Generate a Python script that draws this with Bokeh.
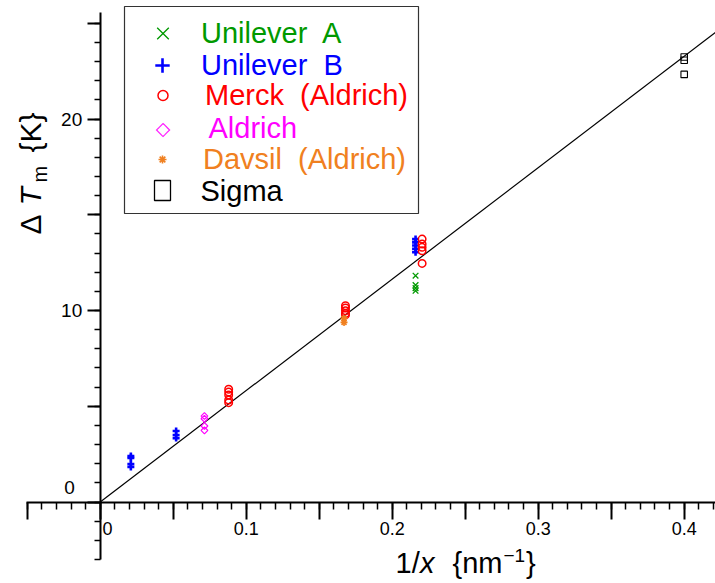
from math import pi

from bokeh.embed import file_html
from bokeh.models import BoxAnnotation, FixedTicker, Label, Legend, LegendItem, Range1d
from bokeh.plotting import figure
from bokeh.resources import INLINE

# ---- data: melting-point depression vs inverse pore size -------------------
unilever_a_x = [0.216, 0.216, 0.216, 0.216]
unilever_a_y = [11.82, 11.33, 11.17, 11.03]

unilever_b_x = [0.021, 0.021, 0.021, 0.021, 0.052, 0.052, 0.052,
                0.216, 0.216, 0.216, 0.216, 0.216]
unilever_b_y = [2.40, 2.30, 1.98, 1.83, 3.71, 3.50, 3.34,
                13.73, 13.56, 13.40, 13.23, 13.05]

merck_x = [0.088, 0.088, 0.088, 0.088, 0.088,
           0.168, 0.168, 0.168, 0.168, 0.168,
           0.2205, 0.2205, 0.2205, 0.2205, 0.2205]
merck_y = [5.89, 5.74, 5.59, 5.33, 5.19,
           10.25, 10.13, 9.99, 9.85, 9.77,
           13.73, 13.47, 13.30, 13.12, 12.46]

aldrich_x = [0.0714, 0.0714, 0.0714, 0.0714]
aldrich_y = [4.49, 4.35, 3.97, 3.74]

davsil_x = [0.167, 0.167]
davsil_y = [9.59, 9.38]

sigma_x = [0.40, 0.40, 0.40]
sigma_y = [23.24, 23.07, 22.33]

# straight-line fit through the origin (K nm)
fit_slope = 58.2

# axis ticks and extents
x_axis_bounds = (-0.0505, 0.4214)
y_axis_bounds = (-3.0, 25.56)
x_major = [-0.05, 0.0, 0.05, 0.1, 0.15, 0.2, 0.25, 0.3, 0.35, 0.4]
x_labeled = [0.1, 0.2, 0.3, 0.4]
x_minor = [round(-0.05 + 0.01 * i, 2) for i in range(48)]
y_major = [0, 5, 10, 15, 20, 25]
y_labeled = [10, 20]
y_minor = list(range(-3, 26))

FONT = "Liberation Sans"
W, H = 715, 583

# ---- figure (frame fills the canvas; axes cross at the origin) -------------
x_start, x_end = -0.06829, 0.42144
y_start, y_end = -4.254, 26.19
p = figure(width=W, height=H,
           x_range=Range1d(x_start, x_end), y_range=Range1d(y_start, y_end),
           output_backend="svg", toolbar_location=None,
           min_border=0)
p.outline_line_color = None
p.grid.visible = False
p.background_fill_color = "white"
p.border_fill_color = "white"

xax = p.xaxis[0]
yax = p.yaxis[0]
xax.fixed_location = 0
yax.fixed_location = 0
xax.bounds = x_axis_bounds
yax.bounds = y_axis_bounds
xax.ticker = FixedTicker(ticks=x_major, minor_ticks=x_minor)
yax.ticker = FixedTicker(ticks=y_major, minor_ticks=y_minor)
xax.major_label_overrides = {t: "" for t in x_major if t not in x_labeled}
yax.major_label_overrides = {t: "" for t in y_major if t not in y_labeled}

for ax in (xax, yax):
    ax.axis_line_width = 2
    ax.major_tick_line_width = 2
    ax.minor_tick_line_width = 1.5
    ax.major_tick_in = 0
    ax.minor_tick_in = 0
    ax.major_label_text_font = FONT
    ax.major_label_text_font_style = "normal"
    ax.major_label_text_color = "black"

xax.major_tick_out = 17
xax.minor_tick_out = 7
xax.major_label_standoff = 3
xax.major_label_text_font_size = "18px"
yax.major_tick_out = 13
yax.minor_tick_out = 6
yax.major_label_standoff = 5
yax.major_label_text_font_size = "19px"

# fit line from the origin to the right edge
fit_x = [0.0, x_end]
fit_y = [fit_slope * v for v in fit_x]
p.line(fit_x, fit_y, line_color="black", line_width=1.2)

# ---- data series ------------------------------------------------------------
GREEN, BLUE, RED, MAGENTA, ORANGE = "#009900", "#0000ff", "#ff0000", "#ff00ff", "#f08020"

r_a = p.scatter(unilever_a_x, unilever_a_y, marker="x", size=8,
                line_color=GREEN, line_width=1.3)
r_b = p.scatter(unilever_b_x, unilever_b_y, marker="cross", size=7,
                line_color=BLUE, line_width=2.6)
r_m = p.scatter(merck_x, merck_y, marker="circle", size=7.5,
                line_color=RED, fill_color=None, line_width=1.5)
# diamond drawn as a square turned by 45 degrees
r_al = p.scatter(aldrich_x, aldrich_y, marker="square", angle=pi / 4, size=4.8,
                 line_color=MAGENTA, fill_color=None, line_width=1.2)
r_d = p.scatter(davsil_x, davsil_y, marker="asterisk", size=7,
                line_color=ORANGE, line_width=1.6)
r_s = p.scatter(sigma_x, sigma_y, marker="square", size=6.5,
                line_color="black", fill_color=None, line_width=1.1)

# ---- legend ----------------------------------------------------------------
KEY_X = 162    # centre of the legend keys (canvas px)
ROW_H = 44
LEG_SIZE = "29px"
marker_rows = [
    # label, renderer, colour, key width, row centre y, text x
    ("Unilever  A", r_a, GREEN, 41, 32.5, 201),
    ("Unilever  B", r_b, BLUE, 36, 65, 201),
    ("Merck  (Aldrich)", r_m, RED, 25, 95.5, 204),
    ("Davsil  (Aldrich)", r_d, ORANGE, 20, 158.5, 203),
]
for label, rend, color, gw, cy, tx in marker_rows:
    leg = Legend(items=[LegendItem(label=label, renderers=[rend])],
                 location=(int(round(KEY_X - gw / 2)), int(round(H - (cy + ROW_H / 2)))),
                 glyph_width=gw, glyph_height=ROW_H, label_height=ROW_H,
                 label_standoff=int(round(tx - (KEY_X + gw / 2))),
                 padding=0, margin=0, spacing=0,
                 border_line_alpha=0, background_fill_alpha=0,
                 label_text_font=FONT, label_text_font_size=LEG_SIZE,
                 label_text_color=color)
    p.add_layout(leg)


def text_at(text, sx, sy, size, color="black", font=FONT, align="left",
            style="normal", angle=0.0):
    """Place a text, vertically centred on (sx, sy) in canvas pixels."""
    p.add_layout(Label(x=sx, y=H - sy, x_units="screen", y_units="screen",
                       text=text, angle=angle, text_font=font, text_font_size=size,
                       text_font_style=style, text_align=align,
                       text_baseline="middle", text_color=color))


def screen_box(left, right, top, bottom, color, width):
    p.add_layout(BoxAnnotation(left=left, right=right, top=H - top, bottom=H - bottom,
                               left_units="screen", right_units="screen",
                               top_units="screen", bottom_units="screen",
                               fill_alpha=0, line_color=color, line_alpha=1.0,
                               line_width=width))


# Aldrich row: open diamond key
text_at("\u25c7", KEY_X + 0.5, 127, "19px", MAGENTA, font="DejaVu Sans", align="center")
text_at("Aldrich", 208, 127, LEG_SIZE, MAGENTA)
# Sigma row: open rectangle key
screen_box(154, 170, 180, 200, "black", 1.3)
text_at("Sigma", 200, 190, LEG_SIZE)

# legend frame
screen_box(124, 418, 6, 213, "#333333", 1.2)

# ---- zero tick labels, offset away from the crossing axes ------------------
text_at("0", 107, 528, "18px", align="center")
text_at("0", 69, 487, "19px", align="center")

# ---- axis titles built from pieces (italic symbols, sub/superscripts) ------
# 1/x {nm^-1}
text_at("1/", 395, 562, "29px")
text_at("x", 419.5, 562, "29px", style="italic")
text_at("{nm", 452, 562, "29px")
text_at("\u22121", 503, 554.5, "19px")
text_at("}", 525.5, 562, "29px")

# ΔT_m {K}, rotated
text_at("\u0394", 29.5, 234, "30px", angle=pi / 2)
text_at("T", 29.5, 205, "30px", style="italic", angle=pi / 2)
text_at("m", 39, 182, "20px", angle=pi / 2)
text_at("{K}", 29.5, 152, "30px", angle=pi / 2)

open("out.html", "w").write(file_html(p, INLINE))
